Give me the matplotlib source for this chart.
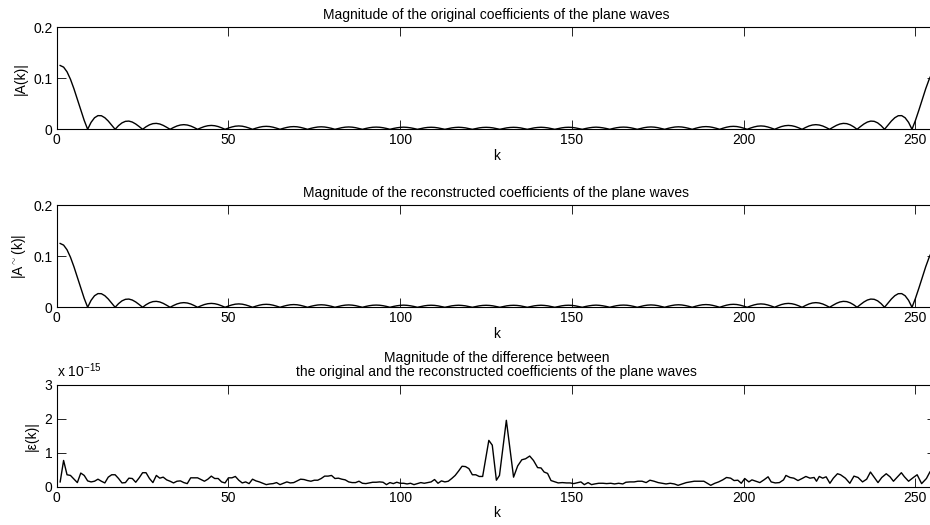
import numpy as np
import matplotlib
matplotlib.use("Agg")
import matplotlib.pyplot as plt

plt.rcParams['font.family'] = ['Liberation Sans', 'DejaVu Sans']
plt.rcParams['font.size'] = 10
plt.rcParams['mathtext.fontset'] = 'custom'
plt.rcParams['mathtext.rm'] = 'Liberation Sans'

# |A(k)| for the 256 plane-wave coefficients, 8 values per row
a_orig = [
    0.1250, 0.1218, 0.1126, 0.0980, 0.0796, 0.0589, 0.0375, 0.0174,
    0.0, 0.0136, 0.0226, 0.0268, 0.0266, 0.0227, 0.0162, 0.0082,
    0.0, 0.0072, 0.0126, 0.0156, 0.0161, 0.0142, 0.0104, 0.0054,
    0.0, 0.0050, 0.0088, 0.0111, 0.0116, 0.0104, 0.0077, 0.0040,
    0.0, 0.0035, 0.0065, 0.0084, 0.0091, 0.0084, 0.0065, 0.0035,
    0.0, 0.0029, 0.0054, 0.0070, 0.0076, 0.0070, 0.0054, 0.0029,
    0.0, 0.0025, 0.0046, 0.0061, 0.0066, 0.0061, 0.0046, 0.0025,
    0.0, 0.0022, 0.0041, 0.0054, 0.0058, 0.0054, 0.0041, 0.0022,
    0.0, 0.0020, 0.0037, 0.0049, 0.0053, 0.0049, 0.0037, 0.0020,
    0.0, 0.0019, 0.0034, 0.0045, 0.0049, 0.0045, 0.0034, 0.0019,
    0.0, 0.0017, 0.0032, 0.0042, 0.0046, 0.0042, 0.0032, 0.0017,
    0.0, 0.0017, 0.0031, 0.0040, 0.0043, 0.0040, 0.0031, 0.0017,
    0.0, 0.0016, 0.0029, 0.0038, 0.0042, 0.0038, 0.0029, 0.0016,
    0.0, 0.0015, 0.0028, 0.0037, 0.0040, 0.0037, 0.0028, 0.0015,
    0.0, 0.0015, 0.0028, 0.0036, 0.0040, 0.0036, 0.0028, 0.0015,
    0.0, 0.0015, 0.0028, 0.0036, 0.0039, 0.0036, 0.0028, 0.0015,
    0.0, 0.0015, 0.0028, 0.0036, 0.0039, 0.0036, 0.0028, 0.0015,
    0.0, 0.0015, 0.0028, 0.0036, 0.0040, 0.0036, 0.0028, 0.0015,
    0.0, 0.0015, 0.0028, 0.0037, 0.0040, 0.0037, 0.0028, 0.0015,
    0.0, 0.0016, 0.0029, 0.0038, 0.0042, 0.0038, 0.0029, 0.0016,
    0.0, 0.0017, 0.0031, 0.0040, 0.0043, 0.0040, 0.0031, 0.0017,
    0.0, 0.0017, 0.0032, 0.0042, 0.0046, 0.0042, 0.0032, 0.0017,
    0.0, 0.0019, 0.0034, 0.0045, 0.0049, 0.0045, 0.0034, 0.0019,
    0.0, 0.0020, 0.0037, 0.0049, 0.0053, 0.0049, 0.0037, 0.0020,
    0.0, 0.0022, 0.0041, 0.0054, 0.0058, 0.0054, 0.0041, 0.0022,
    0.0, 0.0025, 0.0046, 0.0061, 0.0066, 0.0061, 0.0046, 0.0025,
    0.0, 0.0029, 0.0054, 0.0070, 0.0076, 0.0070, 0.0054, 0.0029,
    0.0, 0.0035, 0.0065, 0.0084, 0.0091, 0.0084, 0.0065, 0.0035,
    0.0, 0.0040, 0.0077, 0.0104, 0.0116, 0.0111, 0.0088, 0.0050,
    0.0, 0.0054, 0.0104, 0.0142, 0.0161, 0.0156, 0.0126, 0.0072,
    0.0, 0.0082, 0.0162, 0.0227, 0.0266, 0.0268, 0.0226, 0.0136,
    0.0, 0.0174, 0.0375, 0.0589, 0.0796, 0.0980, 0.1126, 0.1218,
]
# reconstructed coefficients agree to ~1e-15, so they plot the same
a_recon = list(a_orig)

# |eps(k)| in units of 1e-15
eps_k = [
    1, 2, 3, 4, 6, 7, 8, 9, 10, 11, 12, 13, 14, 15, 16, 17, 18, 19, 20,
    21, 22, 23, 24, 25, 26, 27, 28, 29, 30, 31, 32, 33, 34, 35, 36, 37,
    38, 39, 40, 41, 42, 43, 44, 45, 46, 47, 48, 49, 50, 51, 52, 53, 54,
    55, 56, 57, 58, 59, 60, 61, 62, 63, 64, 65, 66, 67, 68, 69, 70, 71,
    72, 73, 74, 75, 76, 77, 78, 79, 80, 81, 82, 83, 84, 85, 86, 87, 88,
    89, 90, 91, 92, 93, 94, 95, 96, 97, 98, 99, 100, 101, 102, 103, 104,
    105, 106, 107, 108, 109, 110, 111, 112, 113, 114, 115, 116, 117, 118,
    119, 120, 121, 122, 123, 124,
    125.8, 126.8, 128.0, 128.9, 130.9, 133.0, 134.2, 135.4, 136.5, 137.7,
    138.8, 140.0, 141.0, 141.9, 142.9, 143.9, 145.1, 146.0, 147.2, 148.4,
    149.5, 150.5, 151.4, 152.6, 153.6, 154.7, 155.7, 156.6, 157.8, 159.0,
    160.1, 161.3, 162.4, 163.6, 164.8, 165.7, 166.9, 168.1, 169.2, 170.4,
    171.6, 172.7, 173.9, 175.1, 176.2, 177.4, 178.6, 179.8, 180.9, 182.1,
    183.3, 184.4, 185.6, 186.8, 188.4, 189.4, 190.4, 191.6, 192.7, 193.9,
    195.0, 196.2, 197.2, 198.3, 199.3, 200.3, 201.5, 202.4, 203.6, 204.7,
    205.9, 207.1, 208.0, 209.2, 210.4, 211.6, 212.3, 213.5, 214.6, 215.8,
    217.0, 218.1, 219.3, 220.5, 221.2, 222.0, 223.0, 224.0, 225.1, 226.1,
    227.3, 228.2, 229.6, 230.9, 232.1, 233.3, 234.6, 235.8, 236.9, 237.9,
    239.1, 240.2, 241.5, 242.6, 243.6, 244.8, 245.9, 246.8, 248.0, 249.4,
    250.5, 251.8, 253.2, 254.2, 255.2, 256.0,
]
eps_val = [
    0.14, 0.77, 0.35, 0.33, 0.12, 0.40, 0.33, 0.17, 0.14, 0.16, 0.22, 0.16,
    0.11, 0.28, 0.35, 0.35, 0.24, 0.11, 0.12, 0.25, 0.24, 0.13, 0.26, 0.41,
    0.41, 0.24, 0.12, 0.33, 0.25, 0.28, 0.20, 0.16, 0.11, 0.16, 0.17, 0.12,
    0.09, 0.26, 0.26, 0.26, 0.21, 0.16, 0.22, 0.31, 0.24, 0.24, 0.14, 0.11,
    0.26, 0.26, 0.30, 0.19, 0.11, 0.14, 0.09, 0.22, 0.17, 0.14, 0.10, 0.06,
    0.08, 0.09, 0.12, 0.06, 0.10, 0.14, 0.11, 0.12, 0.17, 0.22, 0.21, 0.18,
    0.16, 0.19, 0.19, 0.24, 0.31, 0.31, 0.33, 0.24, 0.25, 0.22, 0.20, 0.14,
    0.12, 0.12, 0.16, 0.10, 0.09, 0.11, 0.13, 0.13, 0.14, 0.13, 0.06, 0.12,
    0.09, 0.13, 0.10, 0.10, 0.08, 0.10, 0.06, 0.09, 0.12, 0.10, 0.12, 0.14,
    0.21, 0.10, 0.17, 0.14, 0.16, 0.24, 0.33, 0.46, 0.60, 0.59, 0.53, 0.35,
    0.35, 0.30, 0.30,
    1.36, 1.22, 0.19, 0.33, 1.95, 0.28, 0.61, 0.79, 0.82, 0.90,
    0.77, 0.56, 0.55, 0.43, 0.39, 0.18, 0.14, 0.11, 0.12, 0.11,
    0.11, 0.09, 0.11, 0.14, 0.06, 0.12, 0.06, 0.08, 0.10, 0.10,
    0.09, 0.10, 0.08, 0.10, 0.08, 0.13, 0.14, 0.14, 0.16, 0.16,
    0.12, 0.19, 0.16, 0.12, 0.10, 0.08, 0.10, 0.08, 0.04, 0.08,
    0.12, 0.14, 0.16, 0.16, 0.16, 0.10, 0.04, 0.10, 0.14, 0.20,
    0.27, 0.25, 0.18, 0.19, 0.10, 0.24, 0.14, 0.20, 0.16, 0.12,
    0.20, 0.29, 0.14, 0.11, 0.12, 0.20, 0.33, 0.27, 0.25, 0.18,
    0.24, 0.30, 0.25, 0.27, 0.16, 0.30, 0.25, 0.29, 0.10, 0.25,
    0.38, 0.35, 0.25, 0.10, 0.31, 0.27, 0.14, 0.22, 0.43, 0.29,
    0.12, 0.27, 0.38, 0.29, 0.16, 0.29, 0.41, 0.29, 0.16, 0.27,
    0.35, 0.09, 0.24, 0.43, 0.55, 0.45,
]

k = np.arange(1, len(a_orig) + 1)
xticks = [0, 50, 100, 150, 200, 250]

fig = plt.figure(figsize=(9.3, 5.25), dpi=100)
left, width, height = 0.061, 0.9455, 0.1945
ax1 = fig.add_axes([left, 0.7537, width, height])
ax2 = fig.add_axes([left, 0.4147, width, height])
ax3 = fig.add_axes([left, 0.0730, width, height])


def style(ax):
    ax.set_xlim(0, 256)
    ax.set_xticks(xticks)
    ax.tick_params(direction='in', length=6.5, width=0.6, top=True,
                   right=True, pad=3, labelsize=10, colors='black')
    for s in ax.spines.values():
        s.set_linewidth(0.8)
    ax.set_xlabel('k', labelpad=1)


ax1.plot(k, a_orig, color='black', linewidth=1.0)
style(ax1)
ax1.set_ylim(0, 0.2)
ax1.set_yticks([0, 0.1, 0.2])
ax1.set_yticklabels(['0', '0.1', '0.2'])
ax1.set_ylabel('|A(k)|')
ax1.set_title('Magnitude of the original coefficients of the plane waves',
              fontsize=10, pad=6)

ax2.plot(k, a_recon, color='black', linewidth=1.0)
style(ax2)
ax2.set_ylim(0, 0.2)
ax2.set_yticks([0, 0.1, 0.2])
ax2.set_yticklabels(['0', '0.1', '0.2'])
ax2.set_ylabel('|A$^{\\sim}$(k)|')
ax2.set_title('Magnitude of the reconstructed coefficients of the plane waves',
              fontsize=10, pad=6)

ax3.plot(eps_k, eps_val, color='black', linewidth=1.0)
style(ax3)
ax3.set_ylim(0, 3)
ax3.set_yticks([0, 1, 2, 3])
ax3.set_ylabel('|ε(k)|')
ax3.set_title('Magnitude of the difference between\n'
              'the original and the reconstructed coefficients of the plane waves',
              fontsize=10, pad=6, linespacing=1.05)
ax3.annotate('x 10$^{-15}$', xy=(0, 1), xycoords='axes fraction',
             xytext=(0, 3), textcoords='offset points',
             ha='left', va='bottom', fontsize=10)

fig.savefig('out.png', dpi=100)
